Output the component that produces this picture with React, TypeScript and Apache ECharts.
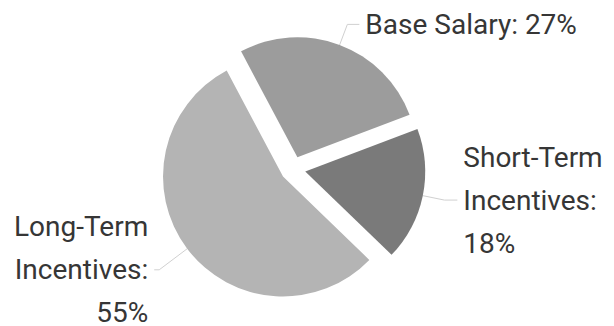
import React, { useEffect, useRef } from "react";
import * as echarts from "echarts";

const categories = ["Base Salary", "Short-Term Incentives", "Long-Term Incentives"];
const labelTexts = ["Base Salary: 27%", "Short-Term\nIncentives:\n18%", "Long-Term\nIncentives:\n55%"];
const values = [27, 18, 55];
const colors = ["#9c9c9c", "#7a7a7a", "#b4b4b4"];
const lineLengths = [22, 22, 35];
const lineLengths2 = [12, 13, 5];

export default function App() {
  const ref = useRef<HTMLDivElement>(null);
  useEffect(() => {
    document.body.style.margin = "0";
    const chart = echarts.init(ref.current!, undefined, { renderer: "svg" });
    chart.setOption({
      animation: false,
      backgroundColor: "#ffffff",
      series: [
        {
          type: "pie",
          center: [293, 169],
          radius: 120,
          startAngle: 118,
          clockwise: true,
          selectedMode: "multiple",
          selectedOffset: 12.5,
          avoidLabelOverlap: false,
          emphasis: { disabled: true },
          label: {
            show: true,
            fontFamily: "Roboto",
            fontSize: 28,
            lineHeight: 43,
            color: "#363636",
            distanceToLabelLine: 6,
            formatter: (p: any) => labelTexts[p.dataIndex],
          },
          labelLine: {
            show: true,
            length: 22,
            length2: 13,
            lineStyle: { color: "#d0d0d0", width: 1 },
          },
          data: categories.map((c, i) => ({
            name: c,
            value: values[i],
            selected: true,
            itemStyle: { color: colors[i] },
            labelLine: { length: lineLengths[i], length2: lineLengths2[i] },
          })),
        },
      ],
    });
    return () => chart.dispose();
  }, []);
  return (
    <div
      ref={ref}
      style={{ position: "fixed", left: 0, top: 0, width: 614, height: 326 }}
    />
  );
}
